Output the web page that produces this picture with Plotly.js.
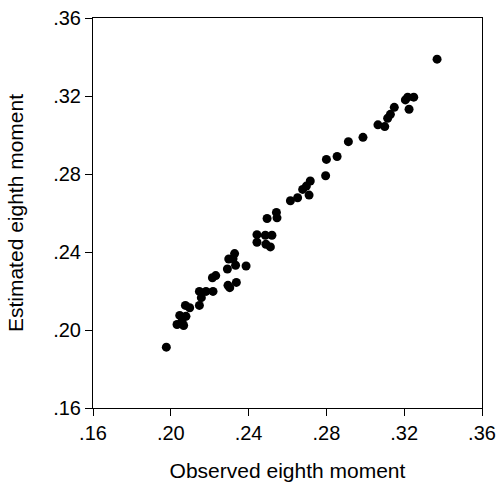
<!DOCTYPE html>
<html>
<head>
<meta charset="utf-8">
<script src="https://cdn.plot.ly/plotly-3.0.1.min.js"></script>
<style>html,body{margin:0;padding:0;background:#fff;}#chart{width:498px;height:485px;}</style>
</head>
<body>
<div id="chart"></div>
<script>
const observed = [0.1977,0.2032,0.2046,0.2066,0.2078,0.2058,0.2075,0.2097,0.2147,0.2147,0.2157,0.2181,0.2217,0.2214,0.2231,
  0.2291,0.2298,0.2294,0.2303,0.2328,0.2320,0.2333,0.2337,0.2387,0.2443,0.2443,0.2486,0.2495,0.2489,0.2512,0.2520,
  0.2543,0.2546,0.2615,0.2652,0.2678,0.2697,0.2717,0.2711,0.2796,0.2800,0.2855,0.2913,0.2988,0.3065,0.3100,0.3115,
  0.3129,0.3149,0.3206,0.3218,0.3249,0.3225,0.3369];
const estimated = [0.1912,0.2028,0.2075,0.2023,0.2070,0.2045,0.2126,0.2114,0.2126,0.2198,0.2166,0.2198,0.2198,0.2268,0.2279,
  0.2313,0.2364,0.2229,0.2217,0.2392,0.2366,0.2332,0.2244,0.2328,0.2489,0.2450,0.2486,0.2572,0.2440,0.2426,0.2486,
  0.2603,0.2575,0.2663,0.2678,0.2721,0.2738,0.2764,0.2692,0.2791,0.2875,0.2890,0.2966,0.2988,0.3052,0.3043,0.3086,
  0.3106,0.3142,0.3180,0.3194,0.3194,0.3132,0.3389];
const tickValues = [0.16,0.20,0.24,0.28,0.32,0.36];
const tickLabels = ['.16','.20','.24','.28','.32','.36'];

const font = {family:'Arial, "Liberation Sans", sans-serif', color:'#000'};
const axisCommon = {
  range:[0.16,0.36], tickvals:tickValues, ticktext:tickLabels,
  showgrid:false, zeroline:false, showline:true, linecolor:'#000', linewidth:1, mirror:true,
  ticks:'outside', ticklen:7, tickcolor:'#000', tickwidth:1,
  tickfont:Object.assign({size:20}, font)
};
Plotly.newPlot('chart', [{
  x: observed, y: estimated, type:'scatter', mode:'markers',
  marker:{color:'#000', size:9}, hoverinfo:'x+y'
}], {
  width:498, height:485,
  margin:{l:93, r:16, t:18, b:77},
  paper_bgcolor:'#fff', plot_bgcolor:'#fff',
  showlegend:false,
  xaxis:Object.assign({}, axisCommon, {title:{text:'Observed eighth moment', font:Object.assign({size:21}, font), standoff:20}, automargin:false}),
  yaxis:Object.assign({}, axisCommon, {title:{text:'Estimated eighth moment', font:Object.assign({size:21}, font), standoff:23}, automargin:false})
}, {displayModeBar:false, staticPlot:true});
</script>
</body>
</html>
